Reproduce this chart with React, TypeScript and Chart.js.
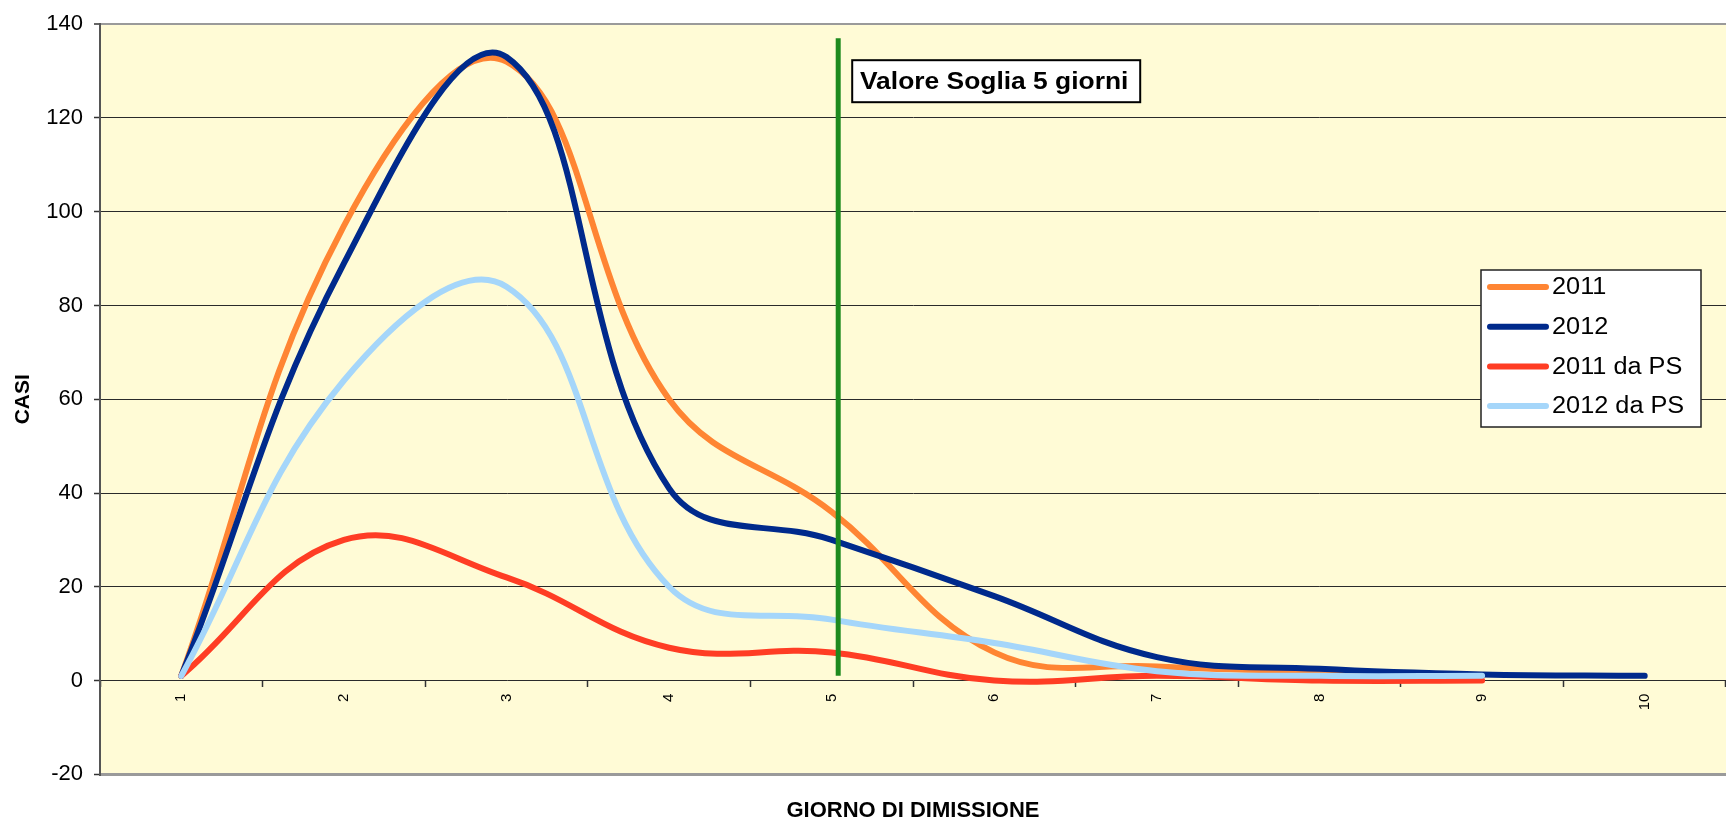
import React, { useEffect, useRef } from 'react';
import { Chart, registerables } from 'chart.js';

Chart.register(...registerables);

// ---- data ----
const days = ['1', '2', '3', '4', '5', '6', '7', '8', '9', '10'];
const serie2011 = [1, 97, 132, 60, 36, 6, 3, 2, 1];
const serie2012 = [1, 89, 133, 41, 30, 18, 5, 2.5, 1.3, 1];
const serie2011PS = [1, 30, 22, 7, 6, 0, 1, 0, 0];
const serie2012PS = [1, 64, 84, 20, 13, 8, 2, 1, 1];
const seriesNames = ['2011', '2012', '2011 da PS', '2012 da PS'];
const seriesColors = ['#FF8533', '#002A8C', '#FF3D24', '#A5D6FA'];
const yMin = -20;
const yMax = 140;
const yStep = 20;
const thresholdDay = 5.04;
const thresholdSpan = [1, 137];
const thresholdLabel = 'Valore Soglia 5 giorni';
const xTitle = 'GIORNO DI DIMISSIONE';
const yTitle = 'CASI';

const FONT = "'Liberation Sans', Arial, Helvetica, sans-serif";
const STRETCH = 1.1;

function stretchedText(ctx: CanvasRenderingContext2D, text: string, x: number, y: number) {
  ctx.save();
  ctx.translate(x, y);
  ctx.scale(STRETCH, 1);
  ctx.fillText(text, 0, 0);
  ctx.restore();
}

const bgPlugin = {
  id: 'plotBg',
  beforeDraw(chart: any) {
    const { ctx, chartArea: a } = chart;
    ctx.save();
    ctx.fillStyle = '#FFFBD6';
    ctx.fillRect(a.left, a.top, a.right - a.left, a.bottom - a.top);
    ctx.restore();
  },
};

const overlayPlugin = {
  id: 'overlay',
  afterDraw(chart: any) {
    const { ctx, chartArea: a } = chart;
    const x2 = chart.scales.x2;
    ctx.save();
    // threshold label box
    const lx = x2.getPixelForValue(thresholdDay);
    const bx = lx + 14;
    const by = a.top + 36;
    const bw = 288;
    const bh = 42;
    ctx.fillStyle = '#FFFFFF';
    ctx.fillRect(bx, by, bw, bh);
    ctx.strokeStyle = '#000';
    ctx.lineWidth = 2;
    ctx.strokeRect(bx, by, bw, bh);
    ctx.fillStyle = '#000';
    ctx.font = `bold 24px ${FONT}`;
    ctx.textAlign = 'left';
    ctx.textBaseline = 'middle';
    const tw = ctx.measureText(thresholdLabel).width * STRETCH;
    stretchedText(ctx, thresholdLabel, bx + (bw - tw) / 2 - 2, by + bh / 2 + 1);

    // legend
    const lxL = 1481;
    const lyT = 270;
    const lw = 220;
    const lh = 157;
    ctx.fillStyle = '#FFFFFF';
    ctx.fillRect(lxL, lyT, lw, lh);
    ctx.strokeStyle = '#222';
    ctx.lineWidth = 1.5;
    ctx.strokeRect(lxL, lyT, lw, lh);
    ctx.font = `23px ${FONT}`;
    ctx.textAlign = 'left';
    ctx.textBaseline = 'middle';
    seriesNames.forEach((name, i) => {
      const cy = lyT + 17 + i * 39.7;
      ctx.strokeStyle = seriesColors[i];
      ctx.lineWidth = 6;
      ctx.lineCap = 'round';
      ctx.beginPath();
      ctx.moveTo(lxL + 9, cy);
      ctx.lineTo(lxL + 65, cy);
      ctx.stroke();
      ctx.fillStyle = '#000';
      stretchedText(ctx, name, lxL + 71, cy + 1);
    });
    ctx.restore();
  },
};

export default function App() {
  const ref = useRef<HTMLCanvasElement>(null);

  useEffect(() => {
    const seriesData = [serie2011, serie2012, serie2011PS, serie2012PS];
    const orders = [4, 3, 2, 1];
    const datasets: any[] = seriesData.map((d, i) => ({
      label: seriesNames[i],
      data: d,
      xAxisID: 'x',
      yAxisID: 'y',
      borderColor: seriesColors[i],
      backgroundColor: seriesColors[i],
      borderWidth: 6,
      borderCapStyle: 'round',
      borderJoinStyle: 'round',
      pointRadius: 0,
      tension: 0.4,
      fill: false,
      order: orders[i],
    }));
    datasets.push({
      label: 'soglia',
      data: [
        { x: thresholdDay, y: thresholdSpan[0] },
        { x: thresholdDay, y: thresholdSpan[1] },
      ],
      xAxisID: 'x2',
      yAxisID: 'y',
      borderColor: '#1E8A1E',
      borderWidth: 5,
      pointRadius: 0,
      tension: 0,
      fill: false,
      order: 0,
    });

    const chart = new Chart(ref.current as HTMLCanvasElement, {
      type: 'line',
      data: { labels: days, datasets },
      plugins: [bgPlugin, overlayPlugin],
      options: {
        responsive: false,
        animation: false,
        devicePixelRatio: 1,
        layout: { padding: { top: 19, left: 0, right: -5, bottom: 0 } },
        plugins: { legend: { display: false }, tooltip: { enabled: false } },
        scales: {
          x: {
            type: 'category',
            position: { y: 0 } as any,
            offset: true,
            grid: {
              offset: true,
              drawOnChartArea: false,
              drawTicks: true,
              tickLength: 6,
              tickColor: '#333',
              tickWidth: 1.5,
            },
            border: { display: false },
            ticks: {
              autoSkip: false,
              minRotation: 90,
              maxRotation: 90,
              padding: 7,
              color: '#000',
              font: { family: FONT, size: 15 },
            },
          },
          x2: {
            type: 'linear',
            position: 'bottom',
            min: 0.5,
            max: 10.5,
            grid: { display: false },
            border: { display: false },
            ticks: { display: false },
            title: {
              display: true,
              text: xTitle,
              color: '#000',
              font: { family: FONT, size: 22, weight: 'bold' },
              padding: { top: 0, bottom: 3 },
            },
            afterFit: (s: any) => {
              s.height = 52.7;
            },
          } as any,
          y: {
            type: 'linear',
            min: yMin,
            max: yMax,
            ticks: {
              stepSize: yStep,
              color: '#000',
              font: { family: FONT, size: 22 },
              padding: 11,
            },
            grid: {
              color: (c: any) =>
                c.tick && (c.tick.value === yMax || c.tick.value === yMin) ? '#9A9A9A' : '#2A2A2A',
              lineWidth: (c: any) =>
                c.tick && c.tick.value === yMin ? 3 : c.tick && c.tick.value === yMax ? 2 : 1,
              drawTicks: true,
              tickLength: 6,
              tickColor: '#333',
              tickWidth: 1.5,
            },
            border: { display: true, color: '#555', width: 2 },
            title: {
              display: true,
              text: yTitle,
              color: '#000',
              font: { family: FONT, size: 21, weight: 'bold' },
              padding: { top: 11, bottom: 0 },
            },
            afterFit: (s: any) => {
              s.width = 100;
            },
          } as any,
        },
      } as any,
    });
    return () => chart.destroy();
  }, []);

  return (
    <div
      style={{
        position: 'fixed',
        left: 0,
        top: 0,
        width: 1726,
        height: 827,
        background: '#FFFFFF',
      }}
    >
      <canvas
        ref={ref}
        width={1726}
        height={827}
        style={{ display: 'block', width: 1726, height: 827 }}
      />
    </div>
  );
}
